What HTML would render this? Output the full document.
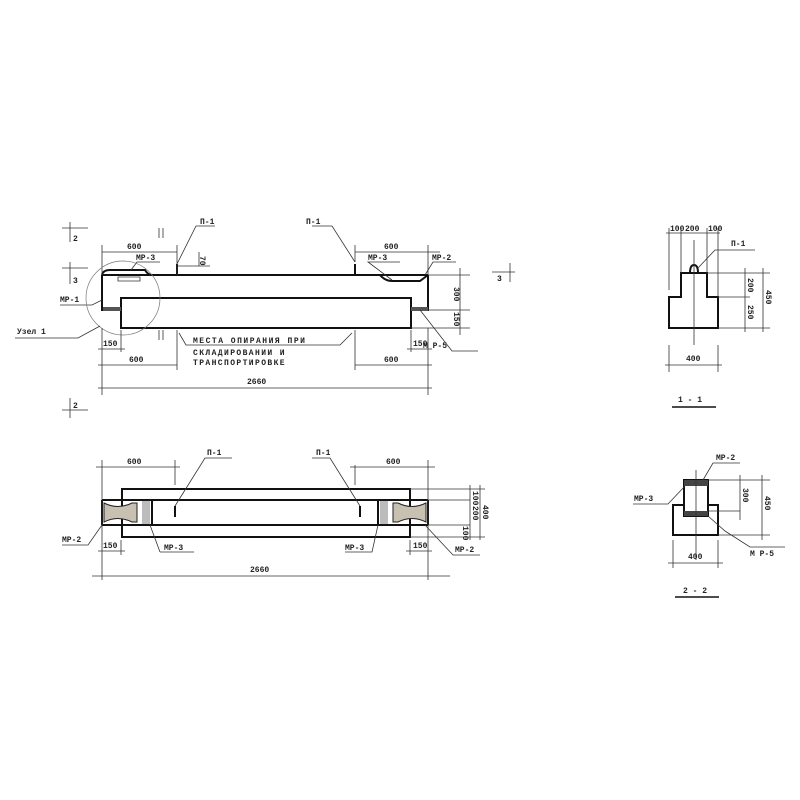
<!DOCTYPE html>
<html><head><meta charset="utf-8"><style>
html,body{margin:0;padding:0;background:#fff}
svg{display:block}
text{font-family:"Liberation Mono","DejaVu Sans Mono",monospace;font-size:8px;fill:#222;font-weight:bold}
.t{stroke:#111;stroke-width:2;fill:none}
.n{stroke:#333;stroke-width:0.8;fill:none}
.h{stroke:#222;stroke-width:0.6}
</style></head><body>
<svg width="800" height="800" viewBox="0 0 800 800" xmlns="http://www.w3.org/2000/svg">
<rect width="800" height="800" fill="#fff"/>
<!-- ===== ELEVATION ===== -->
<path class="t" d="M102 275 L428 275 M102 275 L102 310 L121 310 M428 275 L428 310 L411 310"/>
<rect class="t" x="121" y="298" width="290" height="30"/>
<path class="t" d="M102 275 Q103 270 110 270 L145 270 Q148 275 152 275" />
<path class="n" d="M118 277 L140 277 L140 281 L118 281 Z"/>
<path class="t" d="M380 275 Q385 281 392 281 L420 281 L428 275"/>
<rect x="103" y="307" width="18" height="4" fill="#555"/>
<rect x="411" y="307" width="17" height="4" fill="#555"/>
<path class="t" d="M177 275 L177 264 M355 275 L355 264" stroke-width="1.5"/>
<path class="n" d="M177 264 L196 226 L215 226 M355 262 L332 226 L312 226"/>
<text x="200" y="224">П-1</text><text x="306" y="224">П-1</text>
<path class="n" d="M102 252 L177 252 M102 245 L102 275 M177 245 L177 275 M355 252 L440 252 M355 245 L355 262 M428 245 L428 275"/>
<text x="127" y="249">600</text><text x="384" y="249">600</text>
<path class="n" d="M178 266 L210 266 M199 252 L199 266"/><text x="200" y="256" transform="rotate(90 200 256)" font-size="7">70</text>
<path class="n" d="M131 270 L137 262 L160 262"/><text x="136" y="260">МР-3</text>
<path class="n" d="M392 280 L368 262 L400 262 M425 275 L433 262 L456 262"/>
<text x="368" y="260">МР-3</text><text x="432" y="260">МР-2</text>
<path class="n" d="M102 300 L92 305 L60 305"/><text x="60" y="302">МР-1</text>
<circle cx="123" cy="298" r="37" stroke="#777" stroke-width="0.7" fill="none"/>
<path class="n" d="M100 326 L78 338 L15 338"/><text x="17" y="334">Узел 1</text>
<path class="n" d="M420 310 L452 351 L478 351"/><text x="423" y="348">М Р-5</text>
<path class="n" d="M428 275 L470 275 M428 310 L470 310 M411 328 L470 328 M460 268 L460 335"/>
<text x="454" y="287" transform="rotate(90 454 287)">300</text>
<text x="454" y="312" transform="rotate(90 454 312)">150</text>
<path class="n" d="M177 330 L177 370 M355 330 L355 370"/>
<path class="n" d="M179 333 L186 345 L340 345 L352 333"/>
<text x="193" y="343" letter-spacing="1.5">МЕСТА ОПИРАНИЯ ПРИ</text>
<text x="193" y="355" font-size="7" letter-spacing="1.4">СКЛАДИРОВАНИИ И</text>
<text x="193" y="365" font-size="7" letter-spacing="1.4">ТРАНСПОРТИРОВКЕ</text>
<path class="n" d="M102 328 L102 395 M121 330 L121 352 M411 330 L411 352 M428 328 L428 395"/>
<path class="n" d="M98 349 L125 349 M407 349 L432 349 M98 365 L177 365 M355 365 L432 365 M98 388 L432 388"/>
<text x="103" y="346">150</text><text x="413" y="346">150</text>
<text x="129" y="362">600</text><text x="384" y="362">600</text>
<text x="247" y="384">2660</text>
<path class="n" d="M159 330 L159 340 M163 330 L163 340 M159 228 L159 238 M163 228 L163 238"/>
<path class="n" d="M62 228 L88 228 M70 222 L70 242 M62 268 L88 268 M70 262 L70 284 M62 410 L88 410 M70 398 L70 418 M492 272 L515 272 M510 263 L510 282"/>
<text x="73" y="241" font-size="10">2</text><text x="73" y="283" font-size="10">3</text><text x="73" y="408" font-size="10">2</text><text x="497" y="281" font-size="10">3</text>
<!-- ===== PLAN ===== -->
<rect class="t" x="122" y="489" width="288" height="48"/>
<path class="t" d="M102 500 L428 500 M102 525 L428 525 M102 500 L102 525 M428 500 L428 525 M152 500 L152 525 M378 500 L378 525"/>
<path d="M104 503 Q118 510 132 503 L137 503 L137 522 L132 522 Q118 515 104 522 Z" fill="#c8c0b0" stroke="#222" stroke-width="1"/>
<path d="M426 503 Q412 510 398 503 L393 503 L393 522 L398 522 Q412 515 426 522 Z" fill="#c8c0b0" stroke="#222" stroke-width="1"/>
<g class="h"><path d="M143 500 L143 525 M145 500 L145 525 M147 500 L147 525 M149 500 L149 525 M381 500 L381 525 M383 500 L383 525 M385 500 L385 525 M387 500 L387 525"/></g>
<path class="t" d="M175 506 L175 517 M360 506 L360 517" stroke-width="1.5"/>
<path class="n" d="M175 506 L205 458 L232 458 M360 506 L330 458 L312 458"/>
<text x="207" y="455">П-1</text><text x="316" y="455">П-1</text>
<path class="n" d="M102 460 L102 580 M175 460 L175 485 M355 465 L355 485 M428 460 L428 580 M96 467 L180 467 M350 467 L435 467"/>
<text x="127" y="464">600</text><text x="386" y="464">600</text>
<path class="n" d="M121 540 L121 555 M410 540 L410 555 M98 551 L125 551 M406 551 L432 551 M92 576 L450 576"/>
<text x="103" y="548">150</text><text x="413" y="548">150</text><text x="250" y="572">2660</text>
<path class="n" d="M102 525 L88 545 L62 545 M150 525 L160 552 M160 552 L194 552 M378 525 L372 552 L345 552 M425 525 L453 555 L480 555"/>
<text x="62" y="542">МР-2</text><text x="164" y="550">МР-3</text><text x="345" y="550">МР-3</text><text x="455" y="552">МР-2</text>
<path class="n" d="M410 489 L485 489 M428 500 L470 500 M428 525 L470 525 M410 537 L485 537 M470 485 L470 540 M480 485 L480 540"/>
<text x="473" y="491" transform="rotate(90 473 491)" font-size="6">100</text>
<text x="473" y="506" transform="rotate(90 473 506)" font-size="7">200</text>
<text x="463" y="526" transform="rotate(90 463 526)" font-size="6">100</text>
<text x="483" y="505" transform="rotate(90 483 505)">400</text>
<!-- ===== SECTION 1-1 ===== -->
<path class="t" d="M681 297 L681 273 L707 273 L707 297 L718 297 L718 328 L669 328 L669 297 Z"/>
<path class="t" d="M690 273 Q690 265 694 265 Q698 265 698 273" stroke-width="1.5"/>
<path class="n" d="M694 240 L694 345 M666 233 L720 233 M669 228 L669 290 M681 228 L681 273 M707 228 L707 273 M718 228 L718 297"/>
<text x="670" y="231" font-size="5.5">100</text><text x="685" y="231" font-size="5.5">200</text><text x="708" y="231" font-size="5.5">100</text>
<path class="n" d="M698 268 L715 250 L755 250"/><text x="731" y="246">П-1</text>
<path class="n" d="M707 273 L770 273 M718 297 L750 297 M718 328 L770 328 M745 268 L745 332 M763 268 L763 332"/>
<text x="748" y="278" transform="rotate(90 748 278)" font-size="7">200</text>
<text x="748" y="305" transform="rotate(90 748 305)" font-size="7">250</text>
<text x="766" y="290" transform="rotate(90 766 290)" font-size="7">450</text>
<path class="n" d="M669 345 L669 372 M718 345 L718 372 M665 365 L722 365"/>
<text x="686" y="361">400</text>
<text x="678" y="402" font-size="13" font-weight="normal">1 - 1</text>
<path d="M672 407 L716 407" stroke="#111" stroke-width="1.5"/>
<!-- ===== SECTION 2-2 ===== -->
<path class="t" d="M684 505 L673 505 L673 535 L718 535 L718 505 L708 505"/>
<rect class="t" x="684" y="480" width="24" height="36"/>
<rect x="684" y="480" width="24" height="6" fill="#444"/>
<rect x="684" y="511" width="24" height="5" fill="#444"/>
<path class="n" d="M696 470 L696 560"/>
<path class="n" d="M703 480 L713 463 L740 463"/><text x="716" y="460">МР-2</text>
<path class="n" d="M685 486 L668 504 L633 504"/><text x="634" y="501">МР-3</text>
<path class="n" d="M708 516 L725 531 L750 547 L785 547"/><text x="750" y="556">М Р-5</text>
<path class="n" d="M708 480 L770 480 M708 511 L740 511 M718 535 L770 535 M740 475 L740 520 M762 475 L762 540"/>
<text x="743" y="488" transform="rotate(90 743 488)" font-size="7">300</text>
<text x="765" y="496" transform="rotate(90 765 496)" font-size="7">450</text>
<path class="n" d="M673 540 L673 568 M718 540 L718 568 M668 563 L723 563"/>
<text x="688" y="559">400</text>
<text x="683" y="593" font-size="13" font-weight="normal">2 - 2</text>
<path d="M675 597 L719 597" stroke="#111" stroke-width="1.5"/>
</svg>
</body></html>
